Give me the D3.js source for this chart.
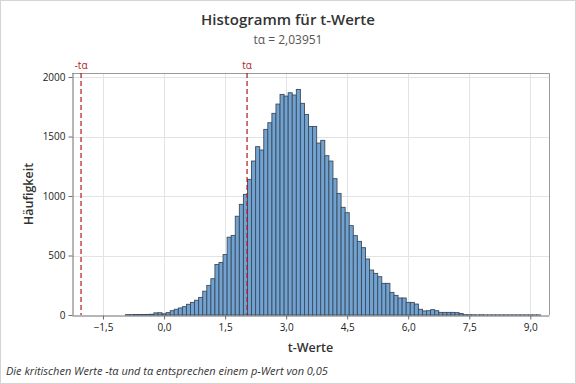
<!DOCTYPE html>
<html lang="de">
<head>
<meta charset="utf-8">
<title>Histogramm für t-Werte</title>
<script src="https://cdn.jsdelivr.net/npm/d3@7"></script>
<style>
  body { margin: 0; background: #fff; }
  svg { display: block; font-family: "Open Sans", "Noto Sans", sans-serif; }
</style>
</head>
<body>
<script>
// bin midpoints (width 0.1)
var binMids = [-0.9, -0.8, -0.7, -0.6, -0.5, -0.4, -0.3, -0.2, -0.1,
  0.0, 0.1, 0.2, 0.3, 0.4, 0.5, 0.6, 0.7, 0.8, 0.9,
  1.0, 1.1, 1.2, 1.3, 1.4, 1.5, 1.6, 1.7, 1.8, 1.9,
  2.0, 2.1, 2.2, 2.3, 2.4, 2.5, 2.6, 2.7, 2.8, 2.9,
  3.0, 3.1, 3.2, 3.3, 3.4, 3.5, 3.6, 3.7, 3.8, 3.9,
  4.0, 4.1, 4.2, 4.3, 4.4, 4.5, 4.6, 4.7, 4.8, 4.9,
  5.0, 5.1, 5.2, 5.3, 5.4, 5.5, 5.6, 5.7, 5.8, 5.9,
  6.0, 6.1, 6.2, 6.3, 6.4, 6.5, 6.6, 6.7, 6.8, 6.9,
  7.0, 7.1, 7.2, 7.3, 7.4, 7.5, 7.6, 7.7, 7.8, 7.9,
  8.0, 8.1, 8.2, 8.3, 8.4, 8.5, 8.6, 8.7, 8.8, 8.9,
  9.0, 9.1, 9.2];
var counts = [3, 3, 4, 4, 4, 5, 6, 18, 19,
  10, 20, 36, 48, 59, 70, 90, 106, 124, 148,
  200, 249, 305, 425, 442, 508, 654, 669, 830, 930,
  1014, 1140, 1294, 1415, 1387, 1560, 1616, 1695, 1773, 1854,
  1840, 1868, 1849, 1896, 1779, 1686, 1585, 1585, 1445, 1468,
  1339, 1294, 1146, 1022, 905, 860, 751, 667, 619, 566,
  471, 378, 350, 322, 266, 266, 190, 165, 143, 143,
  106, 106, 92, 48, 34, 36, 45, 36, 22, 22,
  22, 22, 20, 12, 3, 2, 2, 1, 2, 1,
  1, 1, 1, 1, 1, 1, 1, 1, 1, 1,
  1, 1, 1];
var binWidth = 0.1;
var xTicks = [-1.5, 0, 1.5, 3, 4.5, 6, 7.5, 9];
var yTicks = [0, 500, 1000, 1500, 2000];
var critLines = [{label: "-tα", value: -2.03951}, {label: "tα", value: 2.03951}];

var W = 576, H = 384;
var pLeft = 72, pRight = 549, pTop = 73, pBottom = 315;

var fmt = function(v) { return d3.format(".1f")(v).replace(".", ","); };

var svg = d3.select("body").append("svg")
  .attr("width", W)
  .attr("height", H);

// outer frame
svg.append("rect")
  .attr("x", 0.5).attr("y", 0.5)
  .attr("width", W - 1).attr("height", H - 1)
  .attr("fill", "#fff")
  .attr("stroke", "#d4d4d4");

var x = d3.scaleLinear().domain([-2.262, 9.459]).range([pLeft, pRight]);
var y = d3.scaleLinear().domain([0, 2034]).range([pBottom, pTop]);

// gridlines
svg.append("g").selectAll("line")
  .data(xTicks)
  .join("line")
  .attr("x1", function(d) { return Math.round(x(d)) + 0.5; })
  .attr("x2", function(d) { return Math.round(x(d)) + 0.5; })
  .attr("y1", pTop).attr("y2", pBottom)
  .attr("stroke", "#e3e3e3");

svg.append("g").selectAll("line")
  .data(yTicks.slice(1))
  .join("line")
  .attr("x1", pLeft).attr("x2", pRight)
  .attr("y1", function(d) { return Math.round(y(d)) + 0.5; })
  .attr("y2", function(d) { return Math.round(y(d)) + 0.5; })
  .attr("stroke", "#e3e3e3");

// bars
svg.append("g").selectAll("rect")
  .data(binMids)
  .join("rect")
  .attr("x", function(d) { return x(d - binWidth / 2); })
  .attr("width", function(d) { return x(d + binWidth / 2) - x(d - binWidth / 2); })
  .attr("y", function(d, i) { return y(counts[i]); })
  .attr("height", function(d, i) { return y(0) - y(counts[i]); })
  .attr("fill", "#70a2d2")
  .attr("stroke", "#3d4b5b")
  .attr("stroke-width", 0.9);

// plot frame (top/right lighter)
svg.append("path")
  .attr("d", "M" + pLeft + "," + (pTop + 0.5) + "H" + (pRight + 0.5) + "V" + pBottom)
  .attr("fill", "none")
  .attr("stroke", "#9a9a9a");

// axes
var xAxis = d3.axisBottom(x).tickValues(xTicks).tickFormat(fmt).tickSize(4).tickSizeOuter(0);
var yAxis = d3.axisLeft(y).tickValues(yTicks).tickFormat(d3.format("d")).tickSize(4).tickSizeOuter(0);

var gx = svg.append("g")
  .attr("transform", "translate(0," + (pBottom + 0.5) + ")")
  .call(xAxis);
var gy = svg.append("g")
  .attr("transform", "translate(" + (pLeft + 0.5) + ",0)")
  .call(yAxis);

[gx, gy].forEach(function(g) {
  g.select(".domain").attr("stroke", "#6e6e6e");
  g.selectAll(".tick line").attr("stroke", "#6e6e6e");
  g.selectAll(".tick text")
    .attr("fill", "#222")
    .style("font-size", "10px")
    .style("font-family", "\"Open Sans\", sans-serif");
});
gx.selectAll(".tick text").attr("dy", "0.85em");

// critical value lines
var crit = svg.append("g");
crit.selectAll("line")
  .data(critLines)
  .join("line")
  .attr("x1", function(d) { return x(d.value); })
  .attr("x2", function(d) { return x(d.value); })
  .attr("y1", pTop).attr("y2", pBottom)
  .attr("stroke", "#b0191e")
  .attr("stroke-width", 1.2)
  .attr("stroke-dasharray", "5,3");
crit.selectAll("text")
  .data(critLines)
  .join("text")
  .attr("x", function(d) { return x(d.value); })
  .attr("y", pTop - 4)
  .attr("text-anchor", "middle")
  .attr("fill", "#b0191e")
  .style("font-size", "10px")
  .text(function(d) { return d.label; });

// titles
svg.append("text")
  .attr("x", W / 2).attr("y", 25)
  .attr("text-anchor", "middle")
  .attr("fill", "#333")
  .style("font-size", "15px")
  .style("font-weight", "600")
  .text("Histogramm für t-Werte");

svg.append("text")
  .attr("x", W / 2).attr("y", 44)
  .attr("text-anchor", "middle")
  .attr("fill", "#555")
  .style("font-size", "12px")
  .text("tα = 2,03951");

svg.append("text")
  .attr("x", (pLeft + pRight) / 2).attr("y", 352)
  .attr("text-anchor", "middle")
  .attr("fill", "#333")
  .style("font-size", "12.5px")
  .style("font-weight", "600")
  .text("t-Werte");

svg.append("text")
  .attr("transform", "translate(33," + ((pTop + pBottom) / 2) + ") rotate(-90)")
  .attr("text-anchor", "middle")
  .attr("fill", "#333")
  .style("font-size", "12.5px")
  .style("font-weight", "600")
  .text("Häufigkeit");

svg.append("text")
  .attr("x", 6).attr("y", 375)
  .attr("fill", "#333")
  .style("font-size", "11px")
  .style("font-style", "italic")
  .text("Die kritischen Werte -tα und tα entsprechen einem p-Wert von 0,05");
</script>
</body>
</html>
